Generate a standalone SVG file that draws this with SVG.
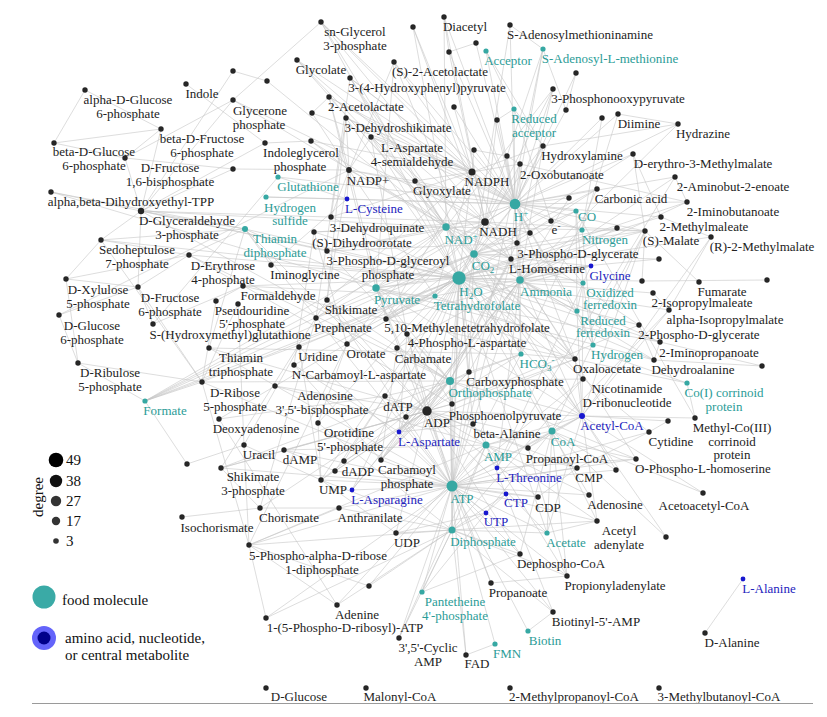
<svg xmlns="http://www.w3.org/2000/svg" width="827" height="717" viewBox="0 0 827 717" font-family="'Liberation Serif','Times New Roman',serif">
<style>
.c line{stroke:#c6c6c6;stroke-width:0.7;stroke-opacity:0.85}
.d{fill:#262626}
.t{fill:#36a8a3}
.b{fill:#1717cf}
text{font-family:'Liberation Serif','Times New Roman',serif;font-size:13px;text-anchor:middle;fill:#222}
text.kt{fill:#2b9c97}
text.kb{fill:#2323bd}
text.lg{font-size:15px;text-anchor:start;fill:#111}
</style>
<rect width="827" height="717" fill="#fff"/>
<g id="connectors" class="c">
<line x1="459" y1="278" x2="141" y2="211"/><line x1="459" y1="278" x2="346" y2="118"/><line x1="459" y1="278" x2="331" y2="217"/><line x1="459" y1="278" x2="511" y2="259"/><line x1="459" y1="278" x2="639" y2="325"/><line x1="459" y1="278" x2="642" y2="281"/><line x1="459" y1="278" x2="653" y2="293"/><line x1="459" y1="278" x2="669" y2="310"/><line x1="459" y1="278" x2="661" y2="217"/><line x1="459" y1="278" x2="645" y2="231"/><line x1="459" y1="278" x2="294" y2="365"/><line x1="459" y1="278" x2="314" y2="232"/><line x1="459" y1="278" x2="397" y2="348"/><line x1="459" y1="278" x2="469" y2="372"/><line x1="459" y1="278" x2="450" y2="381"/><line x1="459" y1="278" x2="427" y2="411"/><line x1="459" y1="278" x2="452" y2="486"/><line x1="459" y1="278" x2="486" y2="445"/><line x1="459" y1="278" x2="452" y2="530"/><line x1="459" y1="278" x2="687" y2="202"/><line x1="459" y1="278" x2="660" y2="342"/><line x1="459" y1="278" x2="597" y2="189"/><line x1="459" y1="278" x2="521" y2="354"/><line x1="459" y1="278" x2="219" y2="419"/><line x1="459" y1="278" x2="589" y2="495"/><line x1="459" y1="278" x2="649" y2="432"/><line x1="459" y1="278" x2="299" y2="347"/><line x1="459" y1="278" x2="582" y2="416"/><line x1="459" y1="278" x2="547" y2="533"/><line x1="459" y1="278" x2="435" y2="296"/><line x1="459" y1="278" x2="386" y2="319"/><line x1="459" y1="278" x2="243" y2="286"/><line x1="459" y1="278" x2="145" y2="401"/><line x1="459" y1="278" x2="376" y2="288"/><line x1="459" y1="278" x2="575" y2="359"/><line x1="459" y1="278" x2="474" y2="254"/><line x1="459" y1="278" x2="576" y2="211"/><line x1="459" y1="278" x2="473" y2="424"/><line x1="459" y1="278" x2="352" y2="490"/><line x1="459" y1="278" x2="399" y2="432"/><line x1="459" y1="278" x2="520" y2="280"/><line x1="459" y1="278" x2="515" y2="204"/><line x1="459" y1="278" x2="446" y2="227"/><line x1="459" y1="278" x2="485" y2="222"/><line x1="459" y1="278" x2="472" y2="172"/><line x1="459" y1="278" x2="101" y2="240"/><line x1="459" y1="278" x2="189" y2="255"/><line x1="459" y1="278" x2="271" y2="265"/><line x1="459" y1="278" x2="591" y2="266"/><line x1="459" y1="278" x2="654" y2="360"/><line x1="459" y1="278" x2="452" y2="404"/><line x1="459" y1="278" x2="245" y2="229"/><line x1="459" y1="278" x2="202" y2="382"/><line x1="459" y1="278" x2="347" y2="344"/><line x1="459" y1="278" x2="659" y2="259"/><line x1="459" y1="278" x2="415" y2="181"/><line x1="459" y1="278" x2="371" y2="137"/><line x1="459" y1="278" x2="413" y2="27"/><line x1="459" y1="278" x2="321" y2="22"/><line x1="459" y1="278" x2="385" y2="396"/>
<line x1="452" y1="486" x2="427" y2="411"/><line x1="452" y1="486" x2="486" y2="445"/><line x1="452" y1="486" x2="452" y2="530"/><line x1="452" y1="486" x2="450" y2="381"/><line x1="452" y1="486" x2="249" y2="545"/><line x1="452" y1="486" x2="202" y2="382"/><line x1="452" y1="486" x2="221" y2="468"/><line x1="452" y1="486" x2="327" y2="300"/><line x1="452" y1="486" x2="407" y2="334"/><line x1="452" y1="486" x2="399" y2="432"/><line x1="452" y1="486" x2="381" y2="460"/><line x1="452" y1="486" x2="469" y2="372"/><line x1="452" y1="486" x2="321" y2="480"/><line x1="452" y1="486" x2="396" y2="533"/><line x1="452" y1="486" x2="486" y2="513"/><line x1="452" y1="486" x2="506" y2="494"/><line x1="452" y1="486" x2="538" y2="497"/><line x1="452" y1="486" x2="577" y2="468"/><line x1="452" y1="486" x2="399" y2="638"/><line x1="452" y1="486" x2="466" y2="655"/><line x1="452" y1="486" x2="495" y2="644"/><line x1="452" y1="486" x2="422" y2="592"/><line x1="452" y1="486" x2="520" y2="554"/><line x1="452" y1="486" x2="597" y2="521"/><line x1="452" y1="486" x2="547" y2="533"/><line x1="452" y1="486" x2="582" y2="416"/><line x1="452" y1="486" x2="552" y2="431"/><line x1="452" y1="486" x2="553" y2="612"/><line x1="452" y1="486" x2="528" y2="631"/><line x1="452" y1="486" x2="491" y2="583"/><line x1="452" y1="486" x2="567" y2="576"/><line x1="452" y1="486" x2="266" y2="618"/><line x1="452" y1="486" x2="583" y2="379"/><line x1="452" y1="486" x2="209" y2="348"/><line x1="452" y1="486" x2="245" y2="229"/><line x1="452" y1="486" x2="385" y2="396"/><line x1="452" y1="486" x2="284" y2="450"/><line x1="452" y1="486" x2="589" y2="495"/><line x1="452" y1="486" x2="636" y2="459"/><line x1="452" y1="486" x2="511" y2="259"/><line x1="452" y1="486" x2="352" y2="490"/><line x1="452" y1="486" x2="543" y2="49"/><line x1="452" y1="486" x2="521" y2="354"/><line x1="452" y1="486" x2="520" y2="280"/><line x1="452" y1="486" x2="369" y2="586"/><line x1="452" y1="486" x2="497" y2="468"/><line x1="452" y1="486" x2="452" y2="404"/><line x1="452" y1="486" x2="376" y2="288"/><line x1="452" y1="486" x2="335" y2="471"/><line x1="452" y1="486" x2="339" y2="508"/><line x1="452" y1="486" x2="649" y2="432"/><line x1="452" y1="486" x2="299" y2="347"/><line x1="452" y1="486" x2="616" y2="470"/>
<line x1="515" y1="204" x2="446" y2="227"/><line x1="515" y1="204" x2="485" y2="222"/><line x1="515" y1="204" x2="349" y2="170"/><line x1="515" y1="204" x2="472" y2="172"/><line x1="515" y1="204" x2="474" y2="254"/><line x1="515" y1="204" x2="543" y2="146"/><line x1="515" y1="204" x2="520" y2="164"/><line x1="515" y1="204" x2="678" y2="124"/><line x1="515" y1="204" x2="618" y2="114"/><line x1="515" y1="204" x2="582" y2="230"/><line x1="515" y1="204" x2="593" y2="345"/><line x1="515" y1="204" x2="551" y2="221"/><line x1="515" y1="204" x2="576" y2="211"/><line x1="515" y1="204" x2="597" y2="189"/><line x1="515" y1="204" x2="514" y2="109"/><line x1="515" y1="204" x2="486" y2="51"/><line x1="515" y1="204" x2="583" y2="283"/><line x1="515" y1="204" x2="577" y2="311"/><line x1="515" y1="204" x2="415" y2="181"/><line x1="515" y1="204" x2="510" y2="25"/><line x1="515" y1="204" x2="543" y2="49"/><line x1="515" y1="204" x2="553" y2="89"/><line x1="515" y1="204" x2="633" y2="154"/><line x1="515" y1="204" x2="507" y2="156"/><line x1="515" y1="204" x2="474" y2="150"/><line x1="515" y1="204" x2="497" y2="120"/><line x1="515" y1="204" x2="602" y2="118"/><line x1="515" y1="204" x2="566" y2="110"/><line x1="515" y1="204" x2="576" y2="73"/><line x1="515" y1="204" x2="511" y2="259"/><line x1="515" y1="204" x2="517" y2="243"/><line x1="515" y1="204" x2="376" y2="288"/><line x1="515" y1="204" x2="575" y2="359"/><line x1="515" y1="204" x2="520" y2="280"/><line x1="515" y1="204" x2="521" y2="354"/><line x1="515" y1="204" x2="454" y2="107"/><line x1="515" y1="204" x2="449" y2="52"/><line x1="515" y1="204" x2="476" y2="43"/><line x1="515" y1="204" x2="444" y2="17"/><line x1="515" y1="204" x2="297" y2="60"/><line x1="515" y1="204" x2="394" y2="62"/><line x1="515" y1="204" x2="329" y2="97"/><line x1="515" y1="204" x2="350" y2="78"/><line x1="515" y1="204" x2="569" y2="198"/><line x1="515" y1="204" x2="530" y2="233"/><line x1="515" y1="204" x2="645" y2="231"/><line x1="515" y1="204" x2="675" y2="177"/><line x1="515" y1="204" x2="687" y2="202"/><line x1="515" y1="204" x2="371" y2="137"/><line x1="515" y1="204" x2="346" y2="118"/><line x1="515" y1="204" x2="321" y2="22"/><line x1="515" y1="204" x2="347" y2="199"/><line x1="515" y1="204" x2="266" y2="197"/><line x1="515" y1="204" x2="278" y2="177"/><line x1="515" y1="204" x2="661" y2="217"/>
<line x1="446" y1="227" x2="321" y2="22"/><line x1="446" y1="227" x2="233" y2="100"/><line x1="446" y1="227" x2="141" y2="211"/><line x1="446" y1="227" x2="327" y2="251"/><line x1="446" y1="227" x2="553" y2="89"/><line x1="446" y1="227" x2="517" y2="243"/><line x1="446" y1="227" x2="645" y2="231"/><line x1="446" y1="227" x2="575" y2="359"/><line x1="446" y1="227" x2="376" y2="288"/><line x1="446" y1="227" x2="297" y2="60"/><line x1="446" y1="227" x2="415" y2="181"/><line x1="446" y1="227" x2="511" y2="259"/><line x1="446" y1="227" x2="371" y2="137"/><line x1="446" y1="227" x2="583" y2="379"/><line x1="446" y1="227" x2="444" y2="17"/><line x1="446" y1="227" x2="350" y2="78"/><line x1="446" y1="227" x2="316" y2="318"/><line x1="446" y1="227" x2="314" y2="232"/><line x1="446" y1="227" x2="347" y2="344"/><line x1="446" y1="227" x2="145" y2="401"/><line x1="446" y1="227" x2="474" y2="254"/><line x1="446" y1="227" x2="311" y2="141"/><line x1="446" y1="227" x2="582" y2="416"/><line x1="446" y1="227" x2="552" y2="431"/>
<line x1="485" y1="222" x2="321" y2="22"/><line x1="485" y1="222" x2="233" y2="100"/><line x1="485" y1="222" x2="141" y2="211"/><line x1="485" y1="222" x2="327" y2="251"/><line x1="485" y1="222" x2="553" y2="89"/><line x1="485" y1="222" x2="517" y2="243"/><line x1="485" y1="222" x2="645" y2="231"/><line x1="485" y1="222" x2="575" y2="359"/><line x1="485" y1="222" x2="297" y2="60"/><line x1="485" y1="222" x2="415" y2="181"/><line x1="485" y1="222" x2="444" y2="17"/><line x1="485" y1="222" x2="314" y2="232"/><line x1="485" y1="222" x2="347" y2="344"/><line x1="485" y1="222" x2="145" y2="401"/><line x1="485" y1="222" x2="386" y2="319"/><line x1="485" y1="222" x2="413" y2="27"/><line x1="485" y1="222" x2="449" y2="52"/><line x1="485" y1="222" x2="543" y2="146"/><line x1="485" y1="222" x2="497" y2="120"/><line x1="485" y1="222" x2="474" y2="254"/>
<line x1="472" y1="172" x2="371" y2="137"/><line x1="472" y1="172" x2="511" y2="259"/><line x1="472" y1="172" x2="346" y2="118"/><line x1="472" y1="172" x2="331" y2="217"/><line x1="472" y1="172" x2="327" y2="300"/><line x1="472" y1="172" x2="415" y2="181"/><line x1="472" y1="172" x2="329" y2="97"/><line x1="472" y1="172" x2="394" y2="62"/><line x1="472" y1="172" x2="312" y2="113"/><line x1="472" y1="172" x2="454" y2="107"/><line x1="472" y1="172" x2="311" y2="141"/><line x1="472" y1="172" x2="543" y2="146"/><line x1="472" y1="172" x2="520" y2="164"/><line x1="472" y1="172" x2="435" y2="296"/><line x1="472" y1="172" x2="386" y2="319"/><line x1="472" y1="172" x2="321" y2="22"/><line x1="472" y1="172" x2="474" y2="150"/><line x1="472" y1="172" x2="413" y2="27"/><line x1="472" y1="172" x2="350" y2="78"/>
<line x1="349" y1="170" x2="371" y2="137"/><line x1="349" y1="170" x2="511" y2="259"/><line x1="349" y1="170" x2="346" y2="118"/><line x1="349" y1="170" x2="331" y2="217"/><line x1="349" y1="170" x2="327" y2="300"/><line x1="349" y1="170" x2="59" y2="315"/><line x1="349" y1="170" x2="329" y2="97"/><line x1="349" y1="170" x2="394" y2="62"/><line x1="349" y1="170" x2="233" y2="169"/><line x1="349" y1="170" x2="312" y2="113"/><line x1="349" y1="170" x2="311" y2="141"/><line x1="349" y1="170" x2="386" y2="319"/><line x1="349" y1="170" x2="435" y2="296"/><line x1="349" y1="170" x2="415" y2="181"/><line x1="349" y1="170" x2="347" y2="199"/>
<line x1="474" y1="254" x2="394" y2="62"/><line x1="474" y1="254" x2="329" y2="97"/><line x1="474" y1="254" x2="376" y2="288"/><line x1="474" y1="254" x2="575" y2="359"/><line x1="474" y1="254" x2="350" y2="78"/><line x1="474" y1="254" x2="316" y2="318"/><line x1="474" y1="254" x2="543" y2="49"/><line x1="474" y1="254" x2="510" y2="25"/><line x1="474" y1="254" x2="521" y2="354"/><line x1="474" y1="254" x2="597" y2="189"/><line x1="474" y1="254" x2="145" y2="401"/><line x1="474" y1="254" x2="318" y2="423"/><line x1="474" y1="254" x2="321" y2="480"/><line x1="474" y1="254" x2="582" y2="416"/><line x1="474" y1="254" x2="576" y2="211"/><line x1="474" y1="254" x2="577" y2="311"/><line x1="474" y1="254" x2="583" y2="283"/><line x1="474" y1="254" x2="520" y2="164"/><line x1="474" y1="254" x2="633" y2="154"/><line x1="474" y1="254" x2="645" y2="231"/><line x1="474" y1="254" x2="617" y2="228"/><line x1="474" y1="254" x2="659" y2="259"/><line x1="474" y1="254" x2="591" y2="266"/><line x1="474" y1="254" x2="386" y2="319"/><line x1="474" y1="254" x2="452" y2="404"/><line x1="474" y1="254" x2="469" y2="372"/>
<line x1="450" y1="381" x2="469" y2="372"/><line x1="450" y1="381" x2="407" y2="334"/><line x1="450" y1="381" x2="327" y2="251"/><line x1="450" y1="381" x2="452" y2="404"/><line x1="450" y1="381" x2="381" y2="460"/><line x1="450" y1="381" x2="427" y2="411"/><line x1="450" y1="381" x2="452" y2="530"/><line x1="450" y1="381" x2="141" y2="211"/><line x1="450" y1="381" x2="221" y2="468"/><line x1="450" y1="381" x2="327" y2="300"/><line x1="450" y1="381" x2="202" y2="382"/><line x1="450" y1="381" x2="321" y2="480"/><line x1="450" y1="381" x2="517" y2="243"/><line x1="450" y1="381" x2="260" y2="508"/><line x1="450" y1="381" x2="189" y2="255"/><line x1="450" y1="381" x2="376" y2="288"/><line x1="450" y1="381" x2="582" y2="416"/><line x1="450" y1="381" x2="521" y2="354"/><line x1="450" y1="381" x2="397" y2="348"/><line x1="450" y1="381" x2="399" y2="432"/><line x1="450" y1="381" x2="406" y2="417"/><line x1="450" y1="381" x2="385" y2="396"/><line x1="450" y1="381" x2="583" y2="379"/><line x1="450" y1="381" x2="636" y2="459"/><line x1="450" y1="381" x2="511" y2="259"/>
<line x1="427" y1="411" x2="407" y2="334"/><line x1="427" y1="411" x2="381" y2="460"/><line x1="427" y1="411" x2="469" y2="372"/><line x1="427" y1="411" x2="452" y2="404"/><line x1="427" y1="411" x2="376" y2="288"/><line x1="427" y1="411" x2="327" y2="300"/><line x1="427" y1="411" x2="221" y2="468"/><line x1="427" y1="411" x2="385" y2="396"/><line x1="427" y1="411" x2="335" y2="471"/><line x1="427" y1="411" x2="284" y2="450"/><line x1="427" y1="411" x2="486" y2="445"/><line x1="427" y1="411" x2="209" y2="348"/><line x1="427" y1="411" x2="245" y2="229"/><line x1="427" y1="411" x2="511" y2="259"/><line x1="427" y1="411" x2="636" y2="459"/><line x1="427" y1="411" x2="520" y2="554"/><line x1="427" y1="411" x2="396" y2="533"/><line x1="427" y1="411" x2="538" y2="497"/><line x1="427" y1="411" x2="321" y2="480"/><line x1="427" y1="411" x2="577" y2="468"/><line x1="427" y1="411" x2="582" y2="416"/><line x1="427" y1="411" x2="547" y2="533"/><line x1="427" y1="411" x2="491" y2="583"/><line x1="427" y1="411" x2="528" y2="448"/><line x1="427" y1="411" x2="521" y2="354"/><line x1="427" y1="411" x2="520" y2="280"/><line x1="427" y1="411" x2="406" y2="417"/><line x1="427" y1="411" x2="344" y2="461"/><line x1="427" y1="411" x2="399" y2="432"/><line x1="427" y1="411" x2="275" y2="386"/>
<line x1="452" y1="530" x2="249" y2="545"/><line x1="452" y1="530" x2="266" y2="618"/><line x1="452" y1="530" x2="486" y2="445"/><line x1="452" y1="530" x2="597" y2="521"/><line x1="452" y1="530" x2="567" y2="576"/><line x1="452" y1="530" x2="553" y2="612"/><line x1="452" y1="530" x2="466" y2="655"/><line x1="452" y1="530" x2="399" y2="638"/><line x1="452" y1="530" x2="520" y2="554"/><line x1="452" y1="530" x2="422" y2="592"/><line x1="452" y1="530" x2="337" y2="605"/><line x1="452" y1="530" x2="321" y2="480"/><line x1="452" y1="530" x2="339" y2="508"/><line x1="452" y1="530" x2="486" y2="513"/><line x1="452" y1="530" x2="506" y2="494"/><line x1="452" y1="530" x2="369" y2="586"/><line x1="452" y1="530" x2="318" y2="423"/><line x1="452" y1="530" x2="547" y2="533"/><line x1="452" y1="530" x2="396" y2="533"/><line x1="452" y1="530" x2="583" y2="379"/>
<line x1="486" y1="445" x2="589" y2="495"/><line x1="486" y1="445" x2="337" y2="605"/><line x1="486" y1="445" x2="597" y2="521"/><line x1="486" y1="445" x2="567" y2="576"/><line x1="486" y1="445" x2="553" y2="612"/><line x1="486" y1="445" x2="249" y2="545"/><line x1="486" y1="445" x2="275" y2="386"/><line x1="486" y1="445" x2="399" y2="638"/><line x1="486" y1="445" x2="582" y2="416"/><line x1="486" y1="445" x2="577" y2="468"/><line x1="486" y1="445" x2="552" y2="431"/><line x1="486" y1="445" x2="473" y2="424"/><line x1="486" y1="445" x2="284" y2="450"/>
<line x1="520" y1="280" x2="687" y2="202"/><line x1="520" y1="280" x2="660" y2="342"/><line x1="520" y1="280" x2="591" y2="266"/><line x1="520" y1="280" x2="543" y2="146"/><line x1="520" y1="280" x2="678" y2="124"/><line x1="520" y1="280" x2="582" y2="230"/><line x1="520" y1="280" x2="397" y2="348"/><line x1="520" y1="280" x2="469" y2="372"/><line x1="520" y1="280" x2="381" y2="460"/><line x1="520" y1="280" x2="521" y2="354"/><line x1="520" y1="280" x2="399" y2="432"/><line x1="520" y1="280" x2="352" y2="490"/><line x1="520" y1="280" x2="675" y2="177"/><line x1="520" y1="280" x2="654" y2="360"/><line x1="520" y1="280" x2="520" y2="164"/><line x1="520" y1="280" x2="617" y2="228"/><line x1="520" y1="280" x2="583" y2="283"/><line x1="520" y1="280" x2="577" y2="311"/><line x1="520" y1="280" x2="497" y2="468"/>
<line x1="376" y1="288" x2="394" y2="62"/><line x1="376" y1="288" x2="329" y2="97"/><line x1="376" y1="288" x2="452" y2="404"/><line x1="376" y1="288" x2="575" y2="359"/><line x1="376" y1="288" x2="582" y2="416"/><line x1="376" y1="288" x2="660" y2="342"/><line x1="376" y1="288" x2="711" y2="237"/><line x1="376" y1="288" x2="51" y2="192"/><line x1="376" y1="288" x2="245" y2="229"/><line x1="376" y1="288" x2="145" y2="401"/><line x1="376" y1="288" x2="654" y2="360"/>
<line x1="552" y1="431" x2="582" y2="416"/><line x1="552" y1="431" x2="528" y2="448"/><line x1="552" y1="431" x2="520" y2="554"/><line x1="552" y1="431" x2="547" y2="533"/><line x1="552" y1="431" x2="597" y2="521"/><line x1="552" y1="431" x2="567" y2="576"/><line x1="552" y1="431" x2="669" y2="310"/><line x1="552" y1="431" x2="703" y2="493"/><line x1="552" y1="431" x2="422" y2="592"/><line x1="552" y1="431" x2="666" y2="537"/><line x1="552" y1="431" x2="645" y2="231"/>
<line x1="582" y1="416" x2="575" y2="359"/><line x1="582" y1="416" x2="669" y2="310"/><line x1="582" y1="416" x2="711" y2="237"/><line x1="582" y1="416" x2="703" y2="493"/><line x1="582" y1="416" x2="695" y2="418"/><line x1="582" y1="416" x2="547" y2="533"/><line x1="582" y1="416" x2="597" y2="521"/><line x1="582" y1="416" x2="668" y2="421"/><line x1="582" y1="416" x2="666" y2="537"/><line x1="582" y1="416" x2="511" y2="259"/><line x1="582" y1="416" x2="645" y2="231"/><line x1="582" y1="416" x2="528" y2="448"/>
<line x1="575" y1="359" x2="645" y2="231"/><line x1="575" y1="359" x2="399" y2="432"/><line x1="575" y1="359" x2="452" y2="404"/><line x1="575" y1="359" x2="521" y2="354"/>
<line x1="399" y1="432" x2="407" y2="334"/><line x1="399" y1="432" x2="294" y2="365"/><line x1="399" y1="432" x2="381" y2="460"/><line x1="399" y1="432" x2="352" y2="490"/><line x1="399" y1="432" x2="473" y2="424"/>
<line x1="407" y1="334" x2="371" y2="137"/><line x1="511" y1="259" x2="371" y2="137"/><line x1="511" y1="259" x2="636" y2="459"/><line x1="497" y1="468" x2="636" y2="459"/><line x1="497" y1="468" x2="591" y2="266"/><line x1="497" y1="468" x2="675" y2="177"/>
<line x1="294" y1="365" x2="314" y2="232"/><line x1="294" y1="365" x2="381" y2="460"/><line x1="314" y1="232" x2="347" y2="344"/><line x1="347" y1="344" x2="318" y2="423"/><line x1="347" y1="344" x2="249" y2="545"/><line x1="318" y1="423" x2="321" y2="480"/>
<line x1="321" y1="480" x2="396" y2="533"/><line x1="396" y1="533" x2="486" y2="513"/><line x1="486" y1="513" x2="506" y2="494"/><line x1="506" y1="494" x2="538" y2="497"/><line x1="538" y1="497" x2="577" y2="468"/><line x1="577" y1="468" x2="649" y2="432"/><line x1="299" y1="347" x2="321" y2="480"/><line x1="299" y1="347" x2="244" y2="445"/>
<line x1="381" y1="460" x2="397" y2="348"/><line x1="381" y1="460" x2="469" y2="372"/><line x1="469" y1="372" x2="521" y2="354"/><line x1="597" y1="189" x2="521" y2="354"/>
<line x1="327" y1="300" x2="346" y2="118"/><line x1="327" y1="300" x2="221" y2="468"/><line x1="221" y1="468" x2="260" y2="508"/><line x1="221" y1="468" x2="452" y2="404"/><line x1="260" y1="508" x2="316" y2="318"/><line x1="260" y1="508" x2="339" y2="508"/><line x1="316" y1="318" x2="350" y2="78"/><line x1="339" y1="508" x2="249" y2="545"/><line x1="331" y1="217" x2="346" y2="118"/>
<line x1="386" y1="319" x2="435" y2="296"/><line x1="386" y1="319" x2="591" y2="266"/><line x1="386" y1="319" x2="243" y2="286"/><line x1="435" y1="296" x2="145" y2="401"/><line x1="435" y1="296" x2="243" y2="286"/><line x1="591" y1="266" x2="435" y2="296"/>
<line x1="517" y1="243" x2="327" y2="251"/><line x1="517" y1="243" x2="639" y2="325"/><line x1="517" y1="243" x2="553" y2="89"/><line x1="639" y1="325" x2="452" y2="404"/><line x1="327" y1="251" x2="141" y2="211"/>
<line x1="271" y1="265" x2="245" y2="229"/><line x1="271" y1="265" x2="347" y2="199"/><line x1="266" y1="197" x2="347" y2="199"/><line x1="278" y1="177" x2="153" y2="324"/><line x1="278" y1="177" x2="347" y2="199"/><line x1="153" y1="324" x2="243" y2="286"/>
<line x1="51" y1="192" x2="245" y2="229"/><line x1="51" y1="192" x2="141" y2="211"/><line x1="245" y1="229" x2="209" y2="348"/><line x1="245" y1="229" x2="189" y2="255"/><line x1="245" y1="229" x2="141" y2="211"/><line x1="245" y1="229" x2="101" y2="240"/>
<line x1="101" y1="240" x2="202" y2="382"/><line x1="101" y1="240" x2="189" y2="255"/><line x1="101" y1="240" x2="66" y2="279"/><line x1="101" y1="240" x2="141" y2="211"/><line x1="189" y1="255" x2="138" y2="287"/><line x1="189" y1="255" x2="66" y2="279"/><line x1="189" y1="255" x2="452" y2="404"/>
<line x1="138" y1="287" x2="141" y2="211"/><line x1="138" y1="287" x2="66" y2="279"/><line x1="138" y1="287" x2="59" y2="315"/><line x1="138" y1="287" x2="202" y2="382"/><line x1="138" y1="287" x2="153" y2="324"/>
<line x1="66" y1="279" x2="78" y2="363"/><line x1="78" y1="363" x2="202" y2="382"/><line x1="78" y1="363" x2="145" y2="401"/><line x1="202" y1="382" x2="145" y2="401"/><line x1="145" y1="401" x2="187" y2="464"/><line x1="202" y1="382" x2="249" y2="545"/><line x1="202" y1="382" x2="238" y2="304"/><line x1="238" y1="304" x2="244" y2="445"/><line x1="216" y1="301" x2="243" y2="286"/><line x1="216" y1="301" x2="202" y2="382"/><line x1="59" y1="315" x2="78" y2="363"/>
<line x1="85" y1="90" x2="54" y2="143"/><line x1="85" y1="90" x2="161" y2="129"/><line x1="54" y1="143" x2="161" y2="129"/><line x1="54" y1="143" x2="125" y2="158"/><line x1="161" y1="129" x2="125" y2="158"/><line x1="161" y1="129" x2="141" y2="211"/><line x1="125" y1="158" x2="141" y2="211"/><line x1="125" y1="158" x2="233" y2="100"/><line x1="125" y1="158" x2="233" y2="169"/><line x1="233" y1="100" x2="141" y2="211"/><line x1="233" y1="100" x2="321" y2="22"/><line x1="265" y1="143" x2="186" y2="84"/><line x1="265" y1="143" x2="141" y2="211"/><line x1="265" y1="143" x2="311" y2="141"/><line x1="233" y1="169" x2="141" y2="211"/><line x1="233" y1="71" x2="267" y2="81"/><line x1="267" y1="81" x2="446" y2="227"/><line x1="233" y1="71" x2="141" y2="211"/>
<line x1="219" y1="419" x2="337" y2="605"/><line x1="219" y1="419" x2="385" y2="396"/><line x1="244" y1="445" x2="321" y2="480"/><line x1="244" y1="445" x2="249" y2="545"/><line x1="335" y1="471" x2="385" y2="396"/><line x1="335" y1="471" x2="284" y2="450"/><line x1="344" y1="461" x2="385" y2="396"/><line x1="209" y1="348" x2="521" y2="354"/>
<line x1="266" y1="618" x2="249" y2="545"/><line x1="369" y1="586" x2="249" y2="545"/><line x1="337" y1="605" x2="249" y2="545"/><line x1="495" y1="644" x2="466" y2="655"/><line x1="422" y1="592" x2="520" y2="554"/><line x1="491" y1="583" x2="567" y2="576"/><line x1="567" y1="576" x2="528" y2="448"/><line x1="553" y1="612" x2="528" y2="631"/><line x1="597" y1="521" x2="547" y2="533"/><line x1="743" y1="579" x2="705" y2="633"/>
<line x1="695" y1="418" x2="687" y2="383"/><line x1="695" y1="418" x2="576" y2="211"/><line x1="687" y1="383" x2="386" y2="319"/><line x1="687" y1="383" x2="435" y2="296"/><line x1="654" y1="360" x2="660" y2="342"/><line x1="660" y1="342" x2="762" y2="366"/><line x1="654" y1="360" x2="639" y2="325"/><line x1="668" y1="421" x2="649" y2="432"/><line x1="616" y1="470" x2="552" y2="431"/><line x1="616" y1="470" x2="582" y2="416"/>
<line x1="583" y1="283" x2="577" y2="311"/><line x1="583" y1="283" x2="593" y2="345"/><line x1="577" y1="311" x2="593" y2="345"/><line x1="577" y1="311" x2="576" y2="211"/><line x1="583" y1="283" x2="576" y2="211"/><line x1="577" y1="311" x2="582" y2="416"/><line x1="583" y1="283" x2="582" y2="416"/><line x1="593" y1="345" x2="582" y2="230"/><line x1="582" y1="230" x2="551" y2="221"/><line x1="551" y1="221" x2="514" y2="109"/>
<line x1="543" y1="146" x2="514" y2="109"/><line x1="543" y1="146" x2="486" y2="51"/><line x1="678" y1="124" x2="618" y2="114"/><line x1="618" y1="114" x2="582" y2="230"/><line x1="678" y1="124" x2="543" y2="146"/><line x1="486" y1="51" x2="514" y2="109"/><line x1="543" y1="49" x2="510" y2="25"/><line x1="543" y1="49" x2="566" y2="110"/><line x1="476" y1="43" x2="449" y2="52"/><line x1="444" y1="17" x2="449" y2="52"/><line x1="297" y1="60" x2="415" y2="181"/><line x1="329" y1="97" x2="312" y2="113"/><line x1="576" y1="73" x2="566" y2="110"/>
<line x1="633" y1="154" x2="661" y2="217"/><line x1="633" y1="154" x2="645" y2="231"/><line x1="675" y1="177" x2="687" y2="202"/><line x1="687" y1="202" x2="520" y2="164"/><line x1="645" y1="231" x2="699" y2="282"/><line x1="645" y1="231" x2="642" y2="281"/><line x1="711" y1="237" x2="661" y2="217"/><line x1="642" y1="281" x2="767" y2="280"/><line x1="653" y1="293" x2="669" y2="310"/><line x1="669" y1="310" x2="711" y2="237"/>
<line x1="602" y1="118" x2="582" y2="230"/><line x1="569" y1="198" x2="520" y2="280"/><line x1="530" y1="233" x2="485" y2="222"/><line x1="497" y1="120" x2="514" y2="109"/><line x1="474" y1="150" x2="507" y2="156"/><line x1="507" y1="156" x2="520" y2="164"/><line x1="187" y1="464" x2="244" y2="445"/><line x1="182" y1="517" x2="260" y2="508"/><line x1="762" y1="366" x2="654" y2="360"/>
</g>
<g id="nodes">
<g id="n-aG6P"><circle class="d" cx="85" cy="90" r="2.7"/><text x="128" y="104">alpha-D-Glucose<tspan x="128" dy="13.5">6-phosphate</tspan></text></g>
<g id="n-indole"><circle class="d" cx="186" cy="84" r="2.7"/><text x="202" y="98">Indole</text></g>
<g id="n-glycerone"><circle class="d" cx="233" cy="100" r="2.7"/><text x="260" y="115">Glycerone<tspan x="259" dy="13.5">phosphate</tspan></text></g>
<g id="n-bF6P"><circle class="d" cx="161" cy="129" r="2.7"/><text x="202" y="143">beta-D-Fructose<tspan x="202" dy="13.5">6-phosphate</tspan></text></g>
<g id="n-bG6P"><circle class="d" cx="54" cy="143" r="2.7"/><text x="94" y="156">beta-D-Glucose<tspan x="94" dy="13.5">6-phosphate</tspan></text></g>
<g id="n-F16BP"><circle class="d" cx="125" cy="158" r="2.7"/><text x="170" y="172">D-Fructose<tspan x="170" dy="13.5">1,6-bisphosphate</tspan></text></g>
<g id="n-igp"><circle class="d" cx="265" cy="143" r="2.7"/><text x="301" y="157">Indoleglycerol<tspan x="300" dy="13.5">phosphate</tspan></text></g>
<g id="n-u1"><circle class="d" cx="233" cy="169" r="2.7"/></g>
<g id="n-u1b"><circle class="d" cx="233" cy="71" r="2.7"/></g>
<g id="n-u1c"><circle class="d" cx="267" cy="81" r="2.7"/></g>
<g id="n-dhetpp"><circle class="d" cx="51" cy="192" r="2.7"/><text x="131" y="206">alpha,beta-Dihydroxyethyl-TPP</text></g>
<g id="n-gap"><circle class="d" cx="141" cy="211" r="3.2"/><text x="187" y="225">D-Glyceraldehyde<tspan x="187" dy="13.5">3-phosphate</tspan></text></g>
<g id="n-tdp"><circle class="t" cx="245" cy="229" r="3"/><text class="kt" x="275" y="243">Thiamin<tspan x="275" dy="13.5">diphosphate</tspan></text></g>
<g id="n-h2s"><circle class="t" cx="266" cy="197" r="2.6"/><text class="kt" x="290" y="212">Hydrogen<tspan x="290" dy="12.5">sulfide</tspan></text></g>
<g id="n-gsh"><circle class="t" cx="278" cy="177" r="2.6"/><text class="kt" x="308" y="191">Glutathione</text></g>
<g id="n-sedo"><circle class="d" cx="101" cy="240" r="2.7"/><text x="137" y="254">Sedoheptulose<tspan x="137" dy="13.5">7-phosphate</tspan></text></g>
<g id="n-e4p"><circle class="d" cx="189" cy="255" r="2.7"/><text x="223" y="270">D-Erythrose<tspan x="223" dy="13.5">4-phosphate</tspan></text></g>
<g id="n-xu5p"><circle class="d" cx="66" cy="279" r="2.7"/><text x="98" y="294">D-Xylulose<tspan x="98" dy="13.5">5-phosphate</tspan></text></g>
<g id="n-f6p"><circle class="d" cx="138" cy="287" r="2.7"/><text x="170" y="302">D-Fructose<tspan x="170" dy="13.5">6-phosphate</tspan></text></g>
<g id="n-formald"><circle class="d" cx="243" cy="286" r="2.7"/><text x="278" y="300">Formaldehyde</text></g>
<g id="n-u2"><circle class="d" cx="216" cy="301" r="2.7"/></g>
<g id="n-pseudo"><circle class="d" cx="238" cy="304" r="2.7"/><text x="252" y="315">Pseudouridine<tspan x="252" dy="13">5'-phosphate</tspan></text></g>
<g id="n-g6p"><circle class="d" cx="59" cy="315" r="2.7"/><text x="92" y="330">D-Glucose<tspan x="92" dy="13.5">6-phosphate</tspan></text></g>
<g id="n-hmgsh"><circle class="d" cx="153" cy="324" r="2.7"/><text x="230" y="339">S-(Hydroxymethyl)glutathione</text></g>
<g id="n-ttp"><circle class="d" cx="209" cy="348" r="2.7"/><text x="241" y="362">Thiamin<tspan x="241" dy="13.5">triphosphate</tspan></text></g>
<g id="n-ru5p"><circle class="d" cx="78" cy="363" r="2.7"/><text x="110" y="377">D-Ribulose<tspan x="110" dy="13.5">5-phosphate</tspan></text></g>
<g id="n-r5p"><circle class="d" cx="202" cy="382" r="2.7"/><text x="235" y="397">D-Ribose<tspan x="235" dy="13.5">5-phosphate</tspan></text></g>
<g id="n-formate"><circle class="t" cx="145" cy="401" r="2.6"/><text class="kt" x="165" y="415">Formate</text></g>
<g id="n-ab35"><circle class="d" cx="275" cy="386" r="2.7"/><text x="325" y="400">Adenosine<tspan x="322" dy="13.5">3',5'-bisphosphate</tspan></text></g>
<g id="n-dado"><circle class="d" cx="219" cy="419" r="2.7"/><text x="256" y="433">Deoxyadenosine</text></g>
<g id="n-uracil"><circle class="d" cx="244" cy="445" r="2.7"/><text x="259" y="459">Uracil</text></g>
<g id="n-u3"><circle class="d" cx="187" cy="464" r="2.7"/></g>
<g id="n-s3p"><circle class="d" cx="221" cy="468" r="2.7"/><text x="253" y="481">Shikimate<tspan x="253" dy="13.5">3-phosphate</tspan></text></g>
<g id="n-isoch"><circle class="d" cx="182" cy="517" r="2.7"/><text x="217" y="532">Isochorismate</text></g>
<g id="n-choris"><circle class="d" cx="260" cy="508" r="2.7"/><text x="289" y="522">Chorismate</text></g>
<g id="n-prpp"><circle class="d" cx="249" cy="545" r="2.7"/><text x="318" y="560">5-Phospho-alpha-D-ribose<tspan x="322" dy="13.5">1-diphosphate</tspan></text></g>
<g id="n-prATP"><circle class="d" cx="266" cy="618" r="2.7"/><text x="345" y="632">1-(5-Phospho-D-ribosyl)-ATP</text></g>
<g id="n-dglc"><circle class="d" cx="266" cy="688" r="2.7"/><text x="299" y="701">D-Glucose</text></g>
<g id="n-malcoa"><circle class="d" cx="366" cy="688" r="2.7"/><text x="400" y="701">Malonyl-CoA</text></g>
<g id="n-mpcoa"><circle class="d" cx="510" cy="688" r="2.7"/><text x="574" y="701">2-Methylpropanoyl-CoA</text></g>
<g id="n-mbcoa"><circle class="d" cx="659" cy="688" r="2.7"/><text x="719" y="701">3-Methylbutanoyl-CoA</text></g>
<g id="n-sngly"><circle class="d" cx="321" cy="22" r="2.7"/><text x="355" y="36">sn-Glycerol<tspan x="355" dy="13.5">3-phosphate</tspan></text></g>
<g id="n-u4"><circle class="d" cx="413" cy="27" r="2.7"/></g>
<g id="n-diacetyl"><circle class="d" cx="444" cy="17" r="2.7"/><text x="465" y="31">Diacetyl</text></g>
<g id="n-samamine"><circle class="d" cx="510" cy="25" r="2.7"/><text x="580" y="39">S-Adenosylmethioninamine</text></g>
<g id="n-u5"><circle class="d" cx="476" cy="43" r="2.7"/></g>
<g id="n-u6"><circle class="d" cx="449" cy="52" r="2.7"/></g>
<g id="n-acceptor"><circle class="t" cx="486" cy="51" r="2.6"/><text class="kt" x="508" y="65">Acceptor</text></g>
<g id="n-sam"><circle class="t" cx="543" cy="49" r="2.6"/><text class="kt" x="610" y="63">S-Adenosyl-L-methionine</text></g>
<g id="n-glycolate"><circle class="d" cx="297" cy="60" r="2.7"/><text x="321" y="74">Glycolate</text></g>
<g id="n-s2al"><circle class="d" cx="394" cy="62" r="2.7"/><text x="440" y="76">(S)-2-Acetolactate</text></g>
<g id="n-hpp"><circle class="d" cx="350" cy="78" r="2.7"/><text x="427" y="92">3-(4-Hydroxyphenyl)pyruvate</text></g>
<g id="n-al2"><circle class="d" cx="329" cy="97" r="2.7"/><text x="366" y="111">2-Acetolactate</text></g>
<g id="n-u7"><circle class="d" cx="312" cy="113" r="2.7"/></g>
<g id="n-u8"><circle class="d" cx="454" cy="107" r="2.7"/></g>
<g id="n-redacc"><circle class="t" cx="514" cy="109" r="2.6"/><text class="kt" x="534" y="123">Reduced<tspan x="534" dy="13.5">acceptor</tspan></text></g>
<g id="n-dhs"><circle class="d" cx="346" cy="118" r="2.7"/><text x="398" y="132">3-Dehydroshikimate</text></g>
<g id="n-u9"><circle class="d" cx="497" cy="120" r="2.7"/></g>
<g id="n-asa"><circle class="d" cx="371" cy="137" r="2.7"/><text x="412" y="152">L-Aspartate<tspan x="412" dy="13.5">4-semialdehyde</tspan></text></g>
<g id="n-u10"><circle class="d" cx="311" cy="141" r="2.7"/></g>
<g id="n-u11"><circle class="d" cx="474" cy="150" r="2.7"/></g>
<g id="n-u12"><circle class="d" cx="507" cy="156" r="2.7"/></g>
<g id="n-hydroxylamine"><circle class="d" cx="543" cy="146" r="2.7"/><text x="582" y="160">Hydroxylamine</text></g>
<g id="n-oxobut"><circle class="d" cx="520" cy="164" r="2.7"/><text x="562" y="179">2-Oxobutanoate</text></g>
<g id="n-nadp"><circle class="d" cx="349" cy="170" r="2.9"/><text x="368" y="185">NADP+</text></g>
<g id="n-nadph"><circle class="d" cx="472" cy="172" r="3.5"/><text x="487" y="186">NADPH</text></g>
<g id="n-glyox"><circle class="d" cx="415" cy="181" r="2.7"/><text x="442" y="195">Glyoxylate</text></g>
<g id="n-cys"><circle class="b" cx="347" cy="199" r="2.4"/><text class="kb" x="374" y="213">L-Cysteine</text></g>
<g id="n-hplus"><circle class="t" cx="515" cy="204" r="5.3"/><text class="kt" x="521" y="221">H<tspan dy="-5" font-size="9">+</tspan></text></g>
<g id="n-dhq"><circle class="d" cx="331" cy="217" r="2.7"/><text x="377" y="232">3-Dehydroquinate</text></g>
<g id="n-nad"><circle class="t" cx="446" cy="227" r="3.7"/><text class="kt" x="461" y="244">NAD<tspan dy="-5" font-size="9">+</tspan></text></g>
<g id="n-nadh"><circle class="d" cx="485" cy="222" r="3.8"/><text x="498" y="236">NADH</text></g>
<g id="n-u13"><circle class="d" cx="530" cy="233" r="2.7"/></g>
<g id="n-u14"><circle class="d" cx="576" cy="73" r="2.7"/></g>
<g id="n-php"><circle class="d" cx="553" cy="89" r="2.7"/><text x="618" y="103">3-Phosphonooxypyruvate</text></g>
<g id="n-u15"><circle class="d" cx="566" cy="110" r="2.7"/></g>
<g id="n-u16"><circle class="d" cx="602" cy="118" r="2.7"/></g>
<g id="n-diimine"><circle class="d" cx="618" cy="114" r="2.7"/><text x="639" y="128">Diimine</text></g>
<g id="n-hydrazine"><circle class="d" cx="678" cy="124" r="2.7"/><text x="703" y="138">Hydrazine</text></g>
<g id="n-dem"><circle class="d" cx="633" cy="154" r="2.7"/><text x="703" y="168">D-erythro-3-Methylmalate</text></g>
<g id="n-abe"><circle class="d" cx="675" cy="177" r="2.7"/><text x="733" y="191">2-Aminobut-2-enoate</text></g>
<g id="n-carbonic"><circle class="d" cx="597" cy="189" r="2.7"/><text x="631" y="203">Carbonic acid</text></g>
<g id="n-u17"><circle class="d" cx="569" cy="198" r="2.7"/></g>
<g id="n-ibut"><circle class="d" cx="687" cy="202" r="2.7"/><text x="733" y="216">2-Iminobutanoate</text></g>
<g id="n-co"><circle class="t" cx="576" cy="211" r="2.6"/><text class="kt" x="587" y="221">CO</text></g>
<g id="n-mmal"><circle class="d" cx="661" cy="217" r="2.7"/><text x="704" y="231">2-Methylmaleate</text></g>
<g id="n-em"><circle class="d" cx="551" cy="221" r="2.7"/><text x="556" y="234">e<tspan dy="-5" font-size="9">-</tspan></text></g>
<g id="n-nitrogen"><circle class="t" cx="582" cy="230" r="2.6"/><text class="kt" x="605" y="244">Nitrogen</text></g>
<g id="n-u18"><circle class="d" cx="617" cy="228" r="2.7"/></g>
<g id="n-smal"><circle class="d" cx="645" cy="231" r="2.7"/><text x="671" y="245">(S)-Malate</text></g>
<g id="n-r2mm"><circle class="d" cx="711" cy="237" r="2.7"/><text x="762" y="251">(R)-2-Methylmalate</text></g>
<g id="n-pg3"><circle class="d" cx="517" cy="243" r="2.7"/><text x="578" y="258">3-Phospho-D-glycerate</text></g>
<g id="n-co2"><circle class="t" cx="474" cy="254" r="3.8"/><text class="kt" x="483" y="270">CO<tspan dy="3" font-size="9">2</tspan></text></g>
<g id="n-dhoro"><circle class="d" cx="314" cy="232" r="2.7"/><text x="362" y="247">(S)-Dihydroorotate</text></g>
<g id="n-bpg"><circle class="d" cx="327" cy="251" r="2.7"/><text x="388" y="265">3-Phospho-D-glyceroyl<tspan x="388" dy="13.5">phosphate</tspan></text></g>
<g id="n-iminogly"><circle class="d" cx="271" cy="265" r="2.7"/><text x="305" y="279">Iminoglycine</text></g>
<g id="n-hse"><circle class="d" cx="511" cy="259" r="2.7"/><text x="547" y="273">L-Homoserine</text></g>
<g id="n-u19"><circle class="d" cx="659" cy="259" r="2.7"/></g>
<g id="n-glycine"><circle class="b" cx="591" cy="266" r="2.4"/><text class="kb" x="610" y="280">Glycine</text></g>
<g id="n-h2o"><circle class="t" cx="459" cy="278" r="6.7"/><text class="kt" x="471" y="296">H<tspan dy="3" font-size="9">2</tspan><tspan dy="-3">O</tspan></text></g>
<g id="n-ammonia"><circle class="t" cx="520" cy="280" r="3.8"/><text class="kt" x="546" y="296">Ammonia</text></g>
<g id="n-fum1"><circle class="d" cx="642" cy="281" r="2.7"/></g>
<g id="n-fumarate"><circle class="d" cx="699" cy="282" r="2.7"/><text x="722" y="296">Fumarate</text></g>
<g id="n-u20"><circle class="d" cx="767" cy="280" r="2.7"/></g>
<g id="n-oxfd"><circle class="t" cx="583" cy="283" r="2.6"/><text class="kt" x="610" y="297">Oxidized<tspan x="610" dy="11.5">ferredoxin</tspan></text></g>
<g id="n-ipm2"><circle class="d" cx="653" cy="293" r="2.7"/><text x="702" y="307">2-Isopropylmaleate</text></g>
<g id="n-pyruvate"><circle class="t" cx="376" cy="288" r="3.7"/><text class="kt" x="397" y="304">Pyruvate</text></g>
<g id="n-thf"><circle class="t" cx="435" cy="296" r="2.6"/><text class="kt" x="477" y="310">Tetrahydrofolate</text></g>
<g id="n-aipm"><circle class="d" cx="669" cy="310" r="2.7"/><text x="725" y="324">alpha-Isopropylmalate</text></g>
<g id="n-redfd"><circle class="t" cx="577" cy="311" r="2.6"/><text class="kt" x="603" y="325">Reduced<tspan x="603" dy="11.5">ferredoxin</tspan></text></g>
<g id="n-shik"><circle class="d" cx="327" cy="300" r="2.7"/><text x="351" y="314">Shikimate</text></g>
<g id="n-mthf"><circle class="d" cx="386" cy="319" r="2.7"/><text x="467" y="332">5,10-Methylenetetrahydrofolate</text></g>
<g id="n-preph"><circle class="d" cx="316" cy="318" r="2.7"/><text x="343" y="332">Prephenate</text></g>
<g id="n-pg2"><circle class="d" cx="639" cy="325" r="2.7"/><text x="699" y="339">2-Phospho-D-glycerate</text></g>
<g id="n-ipro"><circle class="d" cx="660" cy="342" r="2.7"/><text x="709" y="357">2-Iminopropanoate</text></g>
<g id="n-pasp"><circle class="d" cx="407" cy="334" r="2.7"/><text x="467" y="347">4-Phospho-L-aspartate</text></g>
<g id="n-hydrogen"><circle class="t" cx="593" cy="345" r="2.6"/><text class="kt" x="617" y="359">Hydrogen</text></g>
<g id="n-uridine"><circle class="d" cx="299" cy="347" r="2.7"/><text x="318" y="361">Uridine</text></g>
<g id="n-orotate"><circle class="d" cx="347" cy="344" r="2.7"/><text x="366" y="358">Orotate</text></g>
<g id="n-carbamate"><circle class="d" cx="397" cy="348" r="2.7"/><text x="423" y="363">Carbamate</text></g>
<g id="n-hco3"><circle class="t" cx="521" cy="354" r="2.6"/><text class="kt" x="537" y="368">HCO<tspan dy="3" font-size="9">3</tspan><tspan dy="-8" font-size="9">-</tspan></text></g>
<g id="n-dha"><circle class="d" cx="654" cy="360" r="2.7"/><text x="693" y="374">Dehydroalanine</text></g>
<g id="n-u21"><circle class="d" cx="762" cy="366" r="2.7"/></g>
<g id="n-oaa"><circle class="d" cx="575" cy="359" r="2.7"/><text x="607" y="373">Oxaloacetate</text></g>
<g id="n-ncasp"><circle class="d" cx="294" cy="365" r="2.7"/><text x="359" y="379">N-Carbamoyl-L-aspartate</text></g>
<g id="n-cxp"><circle class="d" cx="469" cy="372" r="2.7"/><text x="515" y="386">Carboxyphosphate</text></g>
<g id="n-pi"><circle class="t" cx="450" cy="381" r="4"/><text class="kt" x="490" y="397">Orthophosphate</text></g>
<g id="n-nmn"><circle class="d" cx="583" cy="379" r="2.7"/><text x="627" y="393">Nicotinamide<tspan x="627" dy="13.5">D-ribonucleotide</tspan></text></g>
<g id="n-coI"><circle class="t" cx="687" cy="383" r="2.6"/><text class="kt" x="724" y="397">Co(I) corrinoid<tspan x="724" dy="13.5">protein</tspan></text></g>
<g id="n-datp"><circle class="d" cx="385" cy="396" r="2.7"/><text x="398" y="411">dATP</text></g>
<g id="n-adp"><circle class="d" cx="427" cy="411" r="4.7"/><text x="437" y="427">ADP</text></g>
<g id="n-pep"><circle class="d" cx="452" cy="404" r="2.7"/><text x="505" y="420">Phosphoenolpyruvate</text></g>
<g id="n-u22"><circle class="d" cx="406" cy="417" r="2.7"/></g>
<g id="n-orotidine"><circle class="d" cx="318" cy="423" r="2.7"/><text x="349" y="437">Orotidine<tspan x="350" dy="13.5">5'-phosphate</tspan></text></g>
<g id="n-asp"><circle class="b" cx="399" cy="432" r="2.4"/><text class="kb" x="429" y="446">L-Aspartate</text></g>
<g id="n-bala"><circle class="d" cx="473" cy="424" r="2.7"/><text x="507" y="438">beta-Alanine</text></g>
<g id="n-accoa"><circle class="b" cx="582" cy="416" r="3"/><text class="kb" x="612" y="430">Acetyl-CoA</text></g>
<g id="n-meco"><circle class="d" cx="695" cy="418" r="2.7"/><text x="732" y="432">Methyl-Co(III)<tspan x="732" dy="13.5">corrinoid</tspan><tspan x="732" dy="13.5">protein</tspan></text></g>
<g id="n-u23"><circle class="d" cx="668" cy="421" r="2.7"/></g>
<g id="n-cytidine"><circle class="d" cx="649" cy="432" r="2.7"/><text x="671" y="446">Cytidine</text></g>
<g id="n-coa"><circle class="t" cx="552" cy="431" r="3.5"/><text class="kt" x="563" y="446">CoA</text></g>
<g id="n-amp"><circle class="t" cx="486" cy="445" r="3.5"/><text class="kt" x="498" y="461">AMP</text></g>
<g id="n-propcoa"><circle class="d" cx="528" cy="448" r="2.7"/><text x="567" y="463">Propanoyl-CoA</text></g>
<g id="n-damp"><circle class="d" cx="284" cy="450" r="2.7"/><text x="300" y="464">dAMP</text></g>
<g id="n-u24"><circle class="d" cx="344" cy="461" r="2.7"/></g>
<g id="n-dadp"><circle class="d" cx="335" cy="471" r="2.7"/><text x="358" y="476">dADP</text></g>
<g id="n-carbp"><circle class="d" cx="381" cy="460" r="2.7"/><text x="407" y="474">Carbamoyl<tspan x="407" dy="13.5">phosphate</tspan></text></g>
<g id="n-cmp"><circle class="d" cx="577" cy="468" r="2.7"/><text x="589" y="482">CMP</text></g>
<g id="n-u25"><circle class="d" cx="616" cy="470" r="2.7"/></g>
<g id="n-thr"><circle class="b" cx="497" cy="468" r="2.4"/><text class="kb" x="529" y="482">L-Threonine</text></g>
<g id="n-ophse"><circle class="d" cx="636" cy="459" r="2.7"/><text x="703" y="473">O-Phospho-L-homoserine</text></g>
<g id="n-ump"><circle class="d" cx="321" cy="480" r="2.7"/><text x="333" y="494">UMP</text></g>
<g id="n-atp"><circle class="t" cx="452" cy="486" r="5.5"/><text class="kt" x="462" y="503">ATP</text></g>
<g id="n-asn"><circle class="b" cx="352" cy="490" r="2.4"/><text class="kb" x="387" y="504">L-Asparagine</text></g>
<g id="n-ctp"><circle class="b" cx="506" cy="494" r="2.4"/><text class="kb" x="516" y="507">CTP</text></g>
<g id="n-cdp"><circle class="d" cx="538" cy="497" r="2.7"/><text x="548" y="512">CDP</text></g>
<g id="n-adenosine"><circle class="d" cx="589" cy="495" r="2.7"/><text x="615" y="509">Adenosine</text></g>
<g id="n-acacoa"><circle class="d" cx="703" cy="493" r="2.7"/><text x="704" y="510">Acetoacetyl-CoA</text></g>
<g id="n-anthr"><circle class="d" cx="339" cy="508" r="2.7"/><text x="370" y="522">Anthranilate</text></g>
<g id="n-utp"><circle class="b" cx="486" cy="513" r="2.4"/><text class="kb" x="496" y="526">UTP</text></g>
<g id="n-acad"><circle class="d" cx="597" cy="521" r="2.7"/><text x="619" y="535">Acetyl<tspan x="619" dy="13.5">adenylate</tspan></text></g>
<g id="n-acetate"><circle class="t" cx="547" cy="533" r="2.6"/><text class="kt" x="566" y="547">Acetate</text></g>
<g id="n-diph"><circle class="t" cx="452" cy="530" r="3.5"/><text class="kt" x="483" y="546">Diphosphate</text></g>
<g id="n-udp"><circle class="d" cx="396" cy="533" r="2.7"/><text x="407" y="547">UDP</text></g>
<g id="n-u26"><circle class="d" cx="666" cy="537" r="2.7"/></g>
<g id="n-dpcoa"><circle class="d" cx="520" cy="554" r="2.7"/><text x="561" y="568">Dephospho-CoA</text></g>
<g id="n-propad"><circle class="d" cx="567" cy="576" r="2.7"/><text x="615" y="590">Propionyladenylate</text></g>
<g id="n-propanoate"><circle class="d" cx="491" cy="583" r="2.7"/><text x="518" y="597">Propanoate</text></g>
<g id="n-u27"><circle class="d" cx="369" cy="586" r="2.7"/></g>
<g id="n-pant"><circle class="t" cx="422" cy="592" r="2.6"/><text class="kt" x="455" y="606">Pantetheine<tspan x="455" dy="13.5">4'-phosphate</tspan></text></g>
<g id="n-adenine"><circle class="d" cx="337" cy="605" r="2.7"/><text x="357" y="619">Adenine</text></g>
<g id="n-biotinyl"><circle class="d" cx="553" cy="612" r="2.7"/><text x="596" y="626">Biotinyl-5'-AMP</text></g>
<g id="n-biotin"><circle class="t" cx="528" cy="631" r="2.6"/><text class="kt" x="545" y="645">Biotin</text></g>
<g id="n-camp"><circle class="d" cx="399" cy="638" r="2.7"/><text x="428" y="652">3',5'-Cyclic<tspan x="428" dy="13.5">AMP</tspan></text></g>
<g id="n-fmn"><circle class="t" cx="495" cy="644" r="2.6"/><text class="kt" x="507" y="658">FMN</text></g>
<g id="n-fad"><circle class="d" cx="466" cy="655" r="2.7"/><text x="477" y="668">FAD</text></g>
<g id="n-lala"><circle class="b" cx="743" cy="579" r="2.4"/><text class="kb" x="769" y="593">L-Alanine</text></g>
<g id="n-dala"><circle class="d" cx="705" cy="633" r="2.7"/><text x="732" y="647">D-Alanine</text></g>
</g>
<g id="legend">
<text transform="translate(43,497) rotate(-90)" style="font-size:15px;fill:#111">degree</text>
<circle cx="56" cy="460" r="7.3" fill="#000"/><text class="lg" x="66" y="465">49</text>
<circle cx="56" cy="481" r="6.2" fill="#111"/><text class="lg" x="66" y="486">38</text>
<circle cx="56" cy="501" r="5.2" fill="#333"/><text class="lg" x="66" y="506">27</text>
<circle cx="56" cy="521" r="4.2" fill="#333"/><text class="lg" x="66" y="526">17</text>
<circle cx="56" cy="541" r="2.8" fill="#333"/><text class="lg" x="66" y="546">3</text>
<circle cx="44" cy="597" r="11.5" fill="#3aaaa6"/><text class="lg" x="62" y="605">food molecule</text>
<circle cx="44" cy="638" r="12" fill="#6464fa"/><circle cx="44" cy="638" r="6.5" fill="#00008a"/>
<text class="lg" x="65" y="643">amino acid, nucleotide,<tspan x="65" dy="17">or central metabolite</tspan></text>
</g>
<line x1="32" y1="703.5" x2="813" y2="703.5" stroke="#9a9a9a" stroke-width="1"/>
</svg>
